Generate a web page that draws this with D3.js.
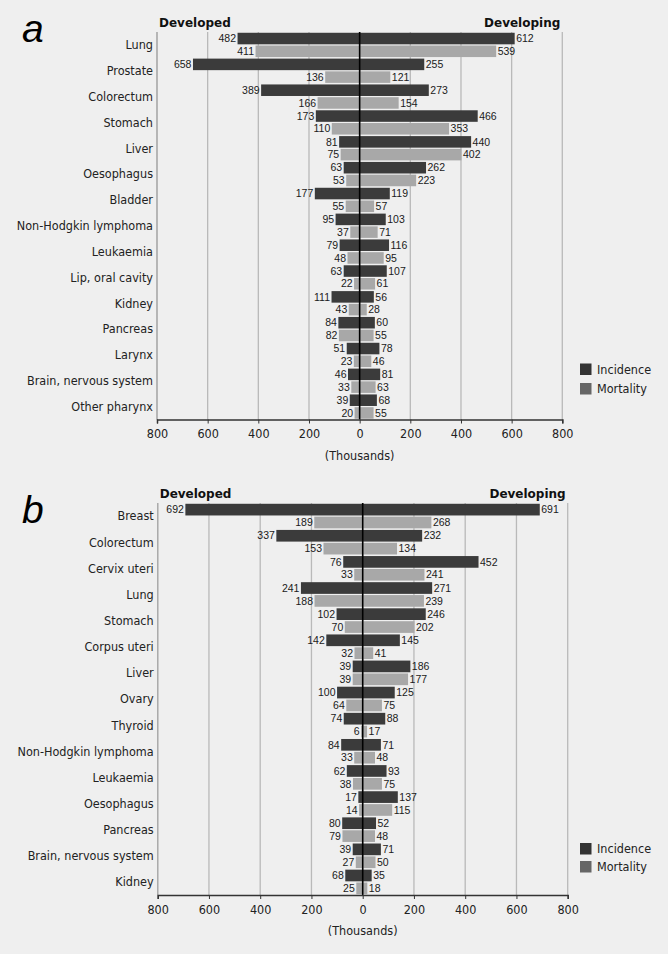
<!DOCTYPE html>
<html>
<head>
<meta charset="utf-8">
<script src="https://cdn.jsdelivr.net/npm/d3@7"></script>
<style>
  html, body { margin: 0; padding: 0; background: #efefef; }
  svg { display: block; }
</style>
</head>
<body>
<svg id="chart"></svg>
<script>
// panel a - men
const sitesA = ["Lung", "Prostate", "Colorectum", "Stomach", "Liver", "Oesophagus", "Bladder",
  "Non-Hodgkin lymphoma", "Leukaemia", "Lip, oral cavity", "Kidney", "Pancreas", "Larynx",
  "Brain, nervous system", "Other pharynx"];
const devIncA = [482, 658, 389, 173, 81, 63, 177, 95, 79, 63, 111, 84, 51, 46, 39];
const devMortA = [411, 136, 166, 110, 75, 53, 55, 37, 48, 22, 43, 82, 23, 33, 20];
const dvgIncA = [612, 255, 273, 466, 440, 262, 119, 103, 116, 107, 56, 60, 78, 81, 68];
const dvgMortA = [539, 121, 154, 353, 402, 223, 57, 71, 95, 61, 28, 55, 46, 63, 55];

// panel b - women
const sitesB = ["Breast", "Colorectum", "Cervix uteri", "Lung", "Stomach", "Corpus uteri", "Liver",
  "Ovary", "Thyroid", "Non-Hodgkin lymphoma", "Leukaemia", "Oesophagus", "Pancreas",
  "Brain, nervous system", "Kidney"];
const devIncB = [692, 337, 76, 241, 102, 142, 39, 100, 74, 84, 62, 17, 80, 39, 68];
const devMortB = [189, 153, 33, 188, 70, 32, 39, 64, 6, 33, 38, 14, 79, 27, 25];
const dvgIncB = [691, 232, 452, 271, 246, 145, 186, 125, 88, 71, 93, 137, 52, 71, 35];
const dvgMortB = [268, 134, 241, 239, 202, 41, 177, 75, 17, 48, 75, 115, 48, 50, 18];

const ticks = [-800, -600, -400, -200, 0, 200, 400, 600, 800];
const seriesNames = ["Incidence", "Mortality"];

const W = 668, H = 954;
const incColor = "#3b3b3b";
const mortColor = "#a8a8a8";
const legendColors = ["#333333", "#666666"];
const font = "'Liberation Sans', Arial, sans-serif";
const labelFont = "'DejaVu Sans Condensed', 'Liberation Sans', sans-serif";

const svg = d3.select("#chart").attr("width", W).attr("height", H);

function drawPanel(o) {
  const g = svg.append("g");

  const x = d3.scaleLinear().domain([-800, 800]).range([o.left, o.right]);
  const y = d3.scaleBand().domain(o.sites).range([o.top, o.bottom]).paddingInner(0.06).paddingOuter(0.03);
  const bw = y.bandwidth();
  const half = bw / 2 - 0.6;

  const rows = o.sites.map((s, i) => ({
    site: s, devInc: o.devInc[i], devMort: o.devMort[i], dvgInc: o.dvgInc[i], dvgMort: o.dvgMort[i]
  }));

  // grid lines
  g.selectAll(".grid")
    .data(ticks)
    .enter().append("line")
    .attr("x1", d => x(d)).attr("x2", d => x(d))
    .attr("y1", o.top).attr("y2", o.bottom)
    .attr("stroke", "#b9b9b9")
    .attr("stroke-width", 1.3);

  // bars: [value accessor, sign, offset, colour]
  const bars = [
    [d => d.devInc, -1, 0, incColor],
    [d => d.dvgInc, 1, 0, incColor],
    [d => d.devMort, -1, 1, mortColor],
    [d => d.dvgMort, 1, 1, mortColor]
  ];
  bars.forEach(([val, sign, off, col]) => {
    g.selectAll(null)
      .data(rows)
      .enter().append("rect")
      .attr("x", d => sign < 0 ? x(-val(d)) : x(0))
      .attr("width", d => Math.abs(x(val(d)) - x(0)))
      .attr("y", d => y(d.site) + off * (bw / 2 + 0.6))
      .attr("height", half)
      .attr("fill", col);

    g.selectAll(null)
      .data(rows)
      .enter().append("text")
      .attr("x", d => sign < 0 ? x(-val(d)) - 1.5 : x(val(d)) + 1.5)
      .attr("y", d => y(d.site) + off * (bw / 2 + 0.6) + half / 2)
      .attr("dy", "0.35em")
      .attr("text-anchor", sign < 0 ? "end" : "start")
      .style("font-family", font)
      .style("font-size", "10.5px")
      .attr("fill", "#1a1a1a")
      .text(d => val(d));
  });

  // zero line
  g.append("line")
    .attr("x1", x(0)).attr("x2", x(0))
    .attr("y1", o.top).attr("y2", o.bottom)
    .attr("stroke", "#000").attr("stroke-width", 1.6);

  // left edge of the plot
  g.append("line")
    .attr("x1", o.left).attr("x2", o.left)
    .attr("y1", o.top).attr("y2", o.bottom)
    .attr("stroke", "#aaa").attr("stroke-width", 1.3);

  // bottom axis
  const axis = g.append("g")
    .attr("transform", `translate(0,${o.bottom})`)
    .call(d3.axisBottom(x).tickValues(ticks).tickFormat(d => Math.abs(d)).tickSize(4).tickSizeOuter(4));
  axis.select(".domain").attr("stroke", "#333").attr("stroke-width", 1.5);
  axis.selectAll(".tick line").attr("stroke", "#333");
  axis.selectAll("text")
    .style("font-family", labelFont).style("font-size", "12.5px").attr("fill", "#222").attr("dy", "0.95em");

  g.append("text")
    .attr("x", (o.left + o.right) / 2)
    .attr("y", o.bottom + 40)
    .attr("text-anchor", "middle")
    .style("font-family", labelFont).style("font-size", "12.5px").attr("fill", "#222")
    .text("(Thousands)");

  // category labels
  g.selectAll(".site")
    .data(rows)
    .enter().append("text")
    .attr("x", o.left - 4)
    .attr("y", d => y(d.site) + bw / 2)
    .attr("dy", "0.35em")
    .attr("text-anchor", "end")
    .style("font-family", labelFont).style("font-size", "12.5px").attr("fill", "#222")
    .text(d => d.site);

  // headers
  g.append("text")
    .attr("x", o.left + 2).attr("y", o.top - 5)
    .style("font-family", "'DejaVu Sans', Verdana, sans-serif").style("font-size", "12px").style("font-weight", "bold")
    .attr("fill", "#111")
    .text("Developed");
  g.append("text")
    .attr("x", o.right - 2).attr("y", o.top - 5)
    .attr("text-anchor", "end")
    .style("font-family", "'DejaVu Sans', Verdana, sans-serif").style("font-size", "12px").style("font-weight", "bold")
    .attr("fill", "#111")
    .text("Developing");

  // panel letter
  g.append("text")
    .attr("x", 22).attr("y", o.letterY)
    .style("font-family", font).style("font-size", "39px").style("font-style", "italic")
    .attr("fill", "#000")
    .text(o.letter);

  // legend
  const leg = g.selectAll(".leg")
    .data(seriesNames)
    .enter().append("g")
    .attr("transform", (d, i) => `translate(580,${o.legendY + i * o.legendStep})`);
  leg.append("rect").attr("width", 11.5).attr("height", 11.5).attr("fill", (d, i) => legendColors[i]);
  leg.append("text")
    .attr("x", 17).attr("y", 6).attr("dy", "0.35em")
    .style("font-family", labelFont).style("font-size", "12.5px").attr("fill", "#222")
    .text(d => d);
}

drawPanel({
  sites: sitesA, devInc: devIncA, devMort: devMortA, dvgInc: dvgIncA, dvgMort: dvgMortA,
  left: 157, right: 562.3, top: 32, bottom: 419.5,
  letter: "a", letterY: 42, legendY: 363.5, legendStep: 19.5
});

drawPanel({
  sites: sitesB, devInc: devIncB, devMort: devMortB, dvgInc: dvgIncB, dvgMort: dvgMortB,
  left: 157.7, right: 567.7, top: 503, bottom: 895,
  letter: "b", letterY: 523, legendY: 843, legendStep: 18
});
</script>
</body>
</html>
